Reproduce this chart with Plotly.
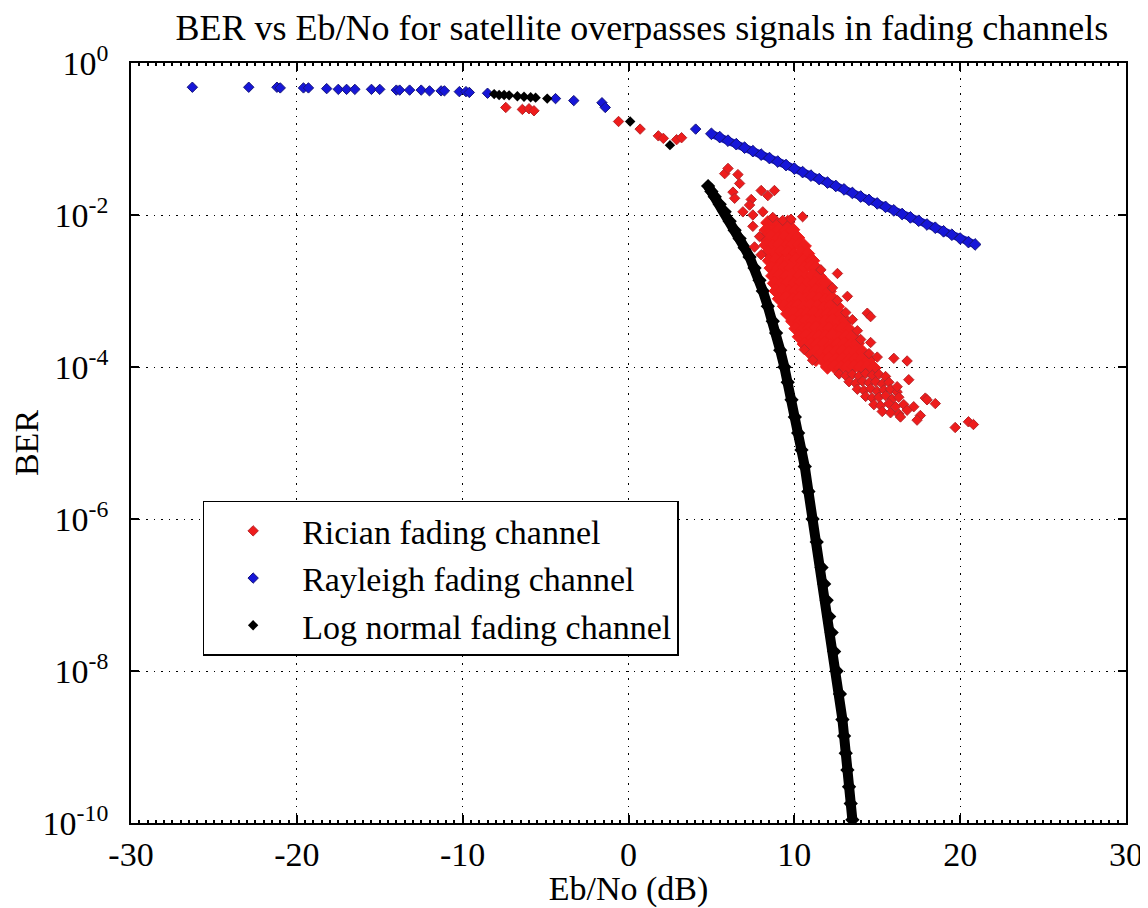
import plotly.graph_objects as go

# ---------------- data ----------------
# Rician fading channel: sparse / isolated points
rician_x = [
    -7.4, -6.4, -6.0, -5.7, -0.6, 0.7, 1.8, 2.1, 2.9, 3.2,
    5.8, 6.0, 6.6, 6.7, 6.3, 6.4, 7.4, 7.3, 8.0, 8.4, 8.8,
    6.9, 7.5, 8.1, 8.7, 9.3, 9.8, 10.5, 7.5, 7.6, 8.0, 7.9,
    12.6, 11.6, 12.3, 12.6, 13.2, 13.1, 13.5, 14.4, 14.6, 13.8, 14.0, 14.6, 14.5, 15.0, 16.0, 16.8, 11.1, 10.6,
    12.7, 13.1, 13.5, 13.9, 14.3, 14.7, 15.1, 15.5,
    13.3, 13.7, 14.1, 14.5, 14.9, 15.3, 15.7,
    13.8, 14.2, 14.6, 15.0, 15.4, 15.8, 16.2,
    14.3, 14.7, 15.1, 15.5, 15.9, 16.3,
    14.8, 15.2, 15.7, 16.1, 16.6,
    15.3, 15.8, 16.3,
    16.4,
    16.9, 16.2, 17.9, 18.5, 18.0, 17.6, 17.4, 17.2, 16.8, 19.7, 20.5, 20.8,
]
rician_ber = [
    0.26, 0.245, 0.25, 0.235, 0.17, 0.135, 0.11, 0.102, 0.098, 0.104,
    0.035, 0.041, 0.034, 0.026, 0.020, 0.0166, 0.016, 0.0135, 0.021, 0.018, 0.021,
    0.011, 0.010, 0.011, 0.0093, 0.0085, 0.0088, 0.0095, 0.0071, 0.0038, 0.0030, 0.0052,
    1.7e-3, 1.9e-3, 1.1e-3, 7.5e-4, 8.5e-4, 5.2e-4, 4.2e-4, 5.1e-4, 4.6e-4, 3.0e-4, 2.3e-4, 2.1e-4, 1.5e-4, 1.35e-4, 1.3e-4, 1.2e-4, 1.23e-4, 1.7e-4,
    8.1e-5, 7.7e-5, 8.0e-5, 7.6e-5, 8.2e-5, 7.8e-5, 8.0e-5, 7.5e-5,
    6.4e-5, 6.1e-5, 6.5e-5, 6.2e-5, 6.4e-5, 6.0e-5, 6.3e-5,
    5.1e-5, 4.9e-5, 5.2e-5, 4.8e-5, 5.0e-5, 5.1e-5, 4.7e-5,
    4.1e-5, 3.9e-5, 4.0e-5, 4.2e-5, 3.8e-5, 4.0e-5,
    3.2e-5, 3.1e-5, 3.3e-5, 3.0e-5, 3.2e-5,
    2.6e-5, 2.5e-5, 2.4e-5,
    2.2e-5,
    6.8e-5, 5.5e-5, 3.9e-5, 3.3e-5, 3.7e-5, 2.3e-5, 2.0e-5, 3.0e-5, 2.7e-5, 1.6e-5, 1.9e-5, 1.75e-5,
]

# Rician fading channel: dense core of the cloud
rician_core_x = [
    8.4, 8.8, 9.2, 9.6,
    8.3, 8.7, 9.1, 9.5, 9.9,
    8.2, 8.6, 9.0, 9.4, 9.8, 10.2,
    8.3, 8.7, 9.1, 9.5, 9.9, 10.3, 10.6,
    8.4, 8.8, 9.2, 9.6, 10.0, 10.4, 10.8,
    8.5, 8.9, 9.3, 9.7, 10.1, 10.5, 10.9, 11.1,
    8.6, 9.0, 9.4, 9.8, 10.2, 10.6, 11.0, 11.3,
    8.7, 9.1, 9.5, 9.9, 10.3, 10.7, 11.1, 11.5,
    8.8, 9.2, 9.6, 10.0, 10.4, 10.8, 11.2, 11.6, 11.9,
    8.9, 9.3, 9.7, 10.1, 10.5, 10.9, 11.3, 11.7, 12.1,
    9.1, 9.5, 9.9, 10.3, 10.7, 11.1, 11.5, 11.9, 12.3,
    9.4, 9.8, 10.2, 10.6, 11.0, 11.4, 11.8, 12.2, 12.6,
    9.6, 10.0, 10.4, 10.8, 11.2, 11.6, 12.0, 12.4, 12.8,
    9.9, 10.3, 10.7, 11.1, 11.5, 11.9, 12.3, 12.7, 13.1,
    10.1, 10.5, 10.9, 11.3, 11.7, 12.1, 12.5, 12.9, 13.3,
    10.3, 10.7, 11.1, 11.5, 11.9, 12.3, 12.7, 13.1, 13.5,
    10.6, 11.0, 11.4, 11.8, 12.2, 12.6, 13.0, 13.4, 13.8,
    10.9, 11.3, 11.7, 12.1, 12.5, 12.9, 13.3, 13.7, 14.1,
    11.3, 11.7, 12.1, 12.5, 12.9, 13.3, 13.7, 14.1, 14.5,
    12.0, 12.4, 12.8, 13.2, 13.6, 14.0, 14.4, 14.8,
]
rician_core_ber = [
    7.9e-3, 8.2e-3, 7.6e-3, 8.0e-3,
    6.3e-3, 6.0e-3, 6.5e-3, 6.2e-3, 6.4e-3,
    5.0e-3, 5.2e-3, 4.9e-3, 5.1e-3, 4.8e-3, 5.0e-3,
    4.0e-3, 3.9e-3, 4.1e-3, 3.8e-3, 4.0e-3, 4.1e-3, 3.9e-3,
    3.2e-3, 3.1e-3, 3.3e-3, 3.2e-3, 3.0e-3, 3.2e-3, 3.1e-3,
    2.5e-3, 2.6e-3, 2.4e-3, 2.5e-3, 2.6e-3, 2.5e-3, 2.4e-3, 2.5e-3,
    2.0e-3, 1.95e-3, 2.05e-3, 2.0e-3, 1.9e-3, 2.0e-3, 2.1e-3, 2.0e-3,
    1.58e-3, 1.6e-3, 1.55e-3, 1.6e-3, 1.58e-3, 1.52e-3, 1.6e-3, 1.56e-3,
    1.26e-3, 1.22e-3, 1.28e-3, 1.25e-3, 1.3e-3, 1.24e-3, 1.27e-3, 1.22e-3, 1.26e-3,
    1.0e-3, 1.02e-3, 9.8e-4, 1.0e-3, 1.03e-3, 9.7e-4, 1.0e-3, 1.01e-3, 9.9e-4,
    7.9e-4, 8.1e-4, 7.7e-4, 8.0e-4, 7.8e-4, 8.2e-4, 7.9e-4, 7.6e-4, 8.0e-4,
    6.3e-4, 6.1e-4, 6.4e-4, 6.2e-4, 6.5e-4, 6.3e-4, 6.0e-4, 6.3e-4, 6.2e-4,
    5.0e-4, 5.1e-4, 4.9e-4, 5.0e-4, 5.2e-4, 4.8e-4, 5.0e-4, 5.1e-4, 4.9e-4,
    4.0e-4, 3.9e-4, 4.1e-4, 4.0e-4, 3.8e-4, 4.0e-4, 4.1e-4, 3.9e-4, 4.0e-4,
    3.2e-4, 3.1e-4, 3.2e-4, 3.3e-4, 3.1e-4, 3.2e-4, 3.0e-4, 3.2e-4, 3.1e-4,
    2.5e-4, 2.6e-4, 2.4e-4, 2.5e-4, 2.5e-4, 2.6e-4, 2.4e-4, 2.5e-4, 2.5e-4,
    2.0e-4, 1.95e-4, 2.0e-4, 2.05e-4, 1.9e-4, 2.0e-4, 2.0e-4, 1.95e-4, 2.05e-4,
    1.58e-4, 1.6e-4, 1.55e-4, 1.6e-4, 1.58e-4, 1.62e-4, 1.56e-4, 1.6e-4, 1.58e-4,
    1.26e-4, 1.24e-4, 1.28e-4, 1.25e-4, 1.27e-4, 1.23e-4, 1.26e-4, 1.28e-4, 1.25e-4,
    1.0e-4, 1.02e-4, 9.8e-5, 1.0e-4, 1.01e-4, 9.9e-5, 1.0e-4, 9.7e-5,
]

# Rayleigh fading channel
rayleigh_x = [
    -26.3, -22.9, -21.2, -21.0, -19.6, -19.3, -18.2, -17.5, -17.0, -16.5,
    -15.5, -15.0, -14.0, -13.8, -13.2, -12.5, -12.0, -11.3, -11.1, -10.2,
    -9.8, -9.6, -8.5, -4.4, -3.3, -1.6, -1.4, 4.05,
]
rayleigh_ber = [
    0.48, 0.48, 0.48, 0.47, 0.47, 0.47, 0.46, 0.45, 0.45, 0.45,
    0.45, 0.45, 0.44, 0.44, 0.44, 0.44, 0.43, 0.43, 0.43, 0.42,
    0.42, 0.41, 0.40, 0.34, 0.32, 0.30, 0.26, 0.135,
]
rayleigh_band_x = [
    5.0, 5.5, 6.0, 6.5, 7.0, 7.5, 8.0, 8.5, 9.0, 9.5, 10.0, 10.5, 11.0,
    11.5, 12.0, 12.5, 13.0, 13.5, 14.0, 14.5, 15.0, 15.5, 16.0, 16.5,
    17.0, 17.5, 18.0, 18.5, 19.0, 19.5, 20.0, 20.5, 20.9,
]
rayleigh_band_ber = [
    0.117, 0.106, 0.095, 0.0855, 0.0769, 0.0692, 0.0623, 0.0561, 0.0505,
    0.0454, 0.0408, 0.0367, 0.0330, 0.0297, 0.0267, 0.0241, 0.0217, 0.0195,
    0.0175, 0.0158, 0.0142, 0.0128, 0.0115, 0.0103, 0.0093, 0.0084, 0.0075,
    0.0068, 0.0061, 0.0055, 0.0049, 0.0044, 0.0041,
]

# Log normal fading channel
lognormal_x = [-8.1, -7.8, -7.5, -7.2, -6.7, -6.3, -5.9, -5.6, -4.9, 0.1, 2.5]
lognormal_ber = [0.39, 0.38, 0.38, 0.375, 0.365, 0.36, 0.355, 0.35, 0.34, 0.17, 0.083]
lognormal_band_x = [
    4.8, 5.0, 5.2, 5.5, 5.8, 6.1, 6.4, 6.7, 7.0, 7.3, 7.6, 7.9, 8.1, 8.4,
    8.7, 8.9, 9.15, 9.4, 9.6, 9.83, 10.03, 10.23, 10.43, 10.63, 10.85, 11.1,
    11.35, 11.64, 11.8, 11.95, 12.1, 12.25, 12.4, 12.55, 12.75, 12.9, 13.0,
    13.1, 13.2, 13.3, 13.4, 13.5,
]
lognormal_band_ber = [
    0.0240, 0.0204, 0.0174, 0.0138, 0.0110, 0.0083, 0.0063, 0.0049, 0.0037,
    0.0028, 0.0020, 0.00138, 0.0010, 6.3e-4, 4.0e-4, 2.8e-4, 1.66e-4, 1.0e-4,
    6.3e-5, 3.7e-5, 2.2e-5, 1.35e-5, 8.1e-6, 4.9e-6, 2.3e-6, 1.0e-6, 5.0e-7,
    2.3e-7, 1.4e-7, 8.5e-8, 5.2e-8, 3.2e-8, 1.8e-8, 1.0e-8, 5.0e-9, 2.3e-9,
    1.4e-9, 8.3e-10, 5.0e-10, 3.0e-10, 1.8e-10, 1.1e-10,
]

x_tick_vals = [-30, -20, -10, 0, 10, 20, 30]
x_tick_text = ["-30", "-20", "-10", "0", "10", "20", "30"]
y_tick_vals = [1, 1e-2, 1e-4, 1e-6, 1e-8, 1e-10]
y_tick_text = ["10<sup>0</sup>", "10<sup>-2</sup>", "10<sup>-4</sup>",
               "10<sup>-6</sup>", "10<sup>-8</sup>", "10<sup>-10</sup>"]

# ---------------- styling ----------------
FONT = "Liberation Serif"
RED = "#ee1c1c"
RED_EDGE = "#b8262a"
BLUE = "#1616d8"
BLUE_EDGE = "#14147a"
BLACK = "#000000"

fig = go.Figure()

# dense bands (no legend)
fig.add_trace(go.Scatter(
    x=rayleigh_band_x, y=rayleigh_band_ber, mode="lines+markers",
    line=dict(color=BLUE, width=8),
    marker=dict(symbol="diamond", size=9, color=BLUE, line=dict(color=BLUE_EDGE, width=1)),
    showlegend=False, hoverinfo="skip"))
fig.add_trace(go.Scatter(
    x=lognormal_band_x, y=lognormal_band_ber, mode="lines+markers",
    line=dict(color=BLACK, width=10),
    marker=dict(symbol="diamond", size=11, color=BLACK),
    showlegend=False, hoverinfo="skip"))
fig.add_trace(go.Scatter(
    x=rician_core_x, y=rician_core_ber, mode="markers",
    marker=dict(symbol="diamond", size=11, color=RED, line=dict(color=RED, width=1)),
    showlegend=False, hoverinfo="skip"))

# legend traces
fig.add_trace(go.Scatter(
    x=rician_x, y=rician_ber, mode="markers", name="Rician fading channel",
    marker=dict(symbol="diamond", size=8, color=RED, line=dict(color=RED_EDGE, width=1))))
fig.add_trace(go.Scatter(
    x=rayleigh_x, y=rayleigh_ber, mode="markers", name="Rayleigh fading channel",
    marker=dict(symbol="diamond", size=8, color=BLUE, line=dict(color=BLUE_EDGE, width=1))))
fig.add_trace(go.Scatter(
    x=lognormal_x, y=lognormal_ber, mode="markers", name="Log normal fading channel",
    marker=dict(symbol="diamond", size=8, color=BLACK)))

axis_common = dict(
    showline=True, linecolor="black", linewidth=1.8, mirror="ticks",
    ticks="inside", ticklen=8, tickwidth=1.5, tickcolor="black",
    showgrid=True, gridcolor="black", gridwidth=1.2, griddash="1.5px,6px",
    zeroline=False, automargin=False, ticklabeloverflow="allow",
    tickfont=dict(family=FONT, size=34, color="black"),
)

# The page body has an 8 px default margin, so the figure is sized and
# offset to leave the plot area at the same place as in the reference.
fig.update_layout(
    width=1140, height=900,
    paper_bgcolor="white", plot_bgcolor="white",
    margin=dict(l=123, r=22, t=55, b=85),
    font=dict(family=FONT, color="black"),
    title=dict(
        text="BER vs Eb/No for satellite overpasses signals in fading channels",
        font=dict(family=FONT, size=36, color="black"),
        x=0.556, xref="container", xanchor="center",
        y=0.993, yref="container", yanchor="top"),
    xaxis=dict(
        range=[-30, 30], tickvals=x_tick_vals, ticktext=x_tick_text,
        minor=dict(dtick=0.5, ticks="inside", ticklen=3, tickcolor="black", showgrid=False),
        title=dict(text="Eb/No (dB)", font=dict(family=FONT, size=34, color="black"), standoff=4),
        **axis_common),
    yaxis=dict(
        type="log", range=[-10, 0], tickvals=y_tick_vals, ticktext=y_tick_text,
        ticklabelstandoff=14,
        title=dict(text="BER", font=dict(family=FONT, size=34, color="black"), standoff=0),
        **axis_common),
    legend=dict(
        x=0.072, y=0.424, xanchor="left", yanchor="top",
        bgcolor="white", bordercolor="black", borderwidth=1.5,
        font=dict(family=FONT, size=34, color="black"),
        itemwidth=88, tracegroupgap=0),
)

fig.write_html("out.html")
